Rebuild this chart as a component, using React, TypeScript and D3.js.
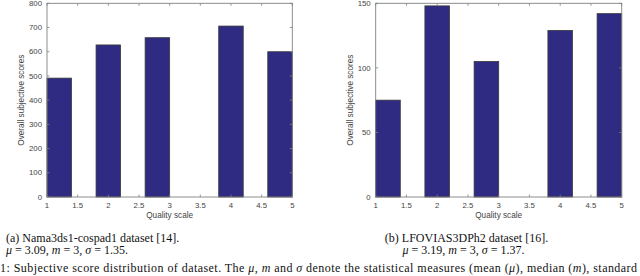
import React from "react";
import * as d3 from "d3";

// histogram bins (quality scale) and counts
const binCenters = [1.2, 2.0, 2.8, 4.0, 4.8];
const binWidth = 0.4;
const namaScores = [491, 628, 658, 706, 600];
const lfoviasScores = [75, 148, 105, 129, 142];
const xTicks = [1, 1.5, 2, 2.5, 3, 3.5, 4, 4.5, 5];
const namaYTicks = [0, 100, 200, 300, 400, 500, 600, 700, 800];
const lfoviasYTicks = [0, 50, 100, 150];

const W = 640;
const H = 276;
const sans = '"Liberation Sans", Arial, sans-serif';
const serif = '"Liberation Serif", "Times New Roman", serif';

const drawPanel = (svg: any, left: number, right: number, values: number[], yTicks: number[]) => {
  const top = 3.3;
  const bottom = 197;
  const x = d3.scaleLinear().domain([1, 5]).range([left, right]);
  const y = d3.scaleLinear().domain([0, yTicks[yTicks.length - 1]]).range([bottom, top]);
  const g = svg.append("g");

  // bars
  g.selectAll("rect.bar")
    .data(values)
    .enter()
    .append("rect")
    .attr("class", "bar")
    .attr("x", (d: number, i: number) => x(binCenters[i] - binWidth / 2))
    .attr("width", (d: number, i: number) => x(binCenters[i] + binWidth / 2) - x(binCenters[i] - binWidth / 2))
    .attr("y", (d: number) => y(d))
    .attr("height", (d: number) => y(0) - y(d))
    .attr("fill", "#2f2b82")
    .attr("stroke", "#3a3a3a")
    .attr("stroke-width", 0.8);

  // box
  g.append("rect")
    .attr("x", left)
    .attr("y", top)
    .attr("width", right - left)
    .attr("height", bottom - top)
    .attr("fill", "none")
    .attr("stroke", "#808080")
    .attr("stroke-width", 0.9);

  const tk = 2.5;
  xTicks.forEach((t) => {
    g.append("line").attr("x1", x(t)).attr("x2", x(t)).attr("y1", bottom).attr("y2", bottom - tk).attr("stroke", "#808080").attr("stroke-width", 0.8);
    g.append("line").attr("x1", x(t)).attr("x2", x(t)).attr("y1", top).attr("y2", top + tk).attr("stroke", "#808080").attr("stroke-width", 0.8);
    g.append("text")
      .attr("x", x(t))
      .attr("y", bottom + 11)
      .attr("text-anchor", "middle")
      .attr("font-family", sans)
      .attr("font-size", "7.8px")
      .attr("fill", "#444")
      .text(String(t));
  });
  yTicks.forEach((t) => {
    g.append("line").attr("x1", left).attr("x2", left + tk).attr("y1", y(t)).attr("y2", y(t)).attr("stroke", "#808080").attr("stroke-width", 0.8);
    g.append("line").attr("x1", right).attr("x2", right - tk).attr("y1", y(t)).attr("y2", y(t)).attr("stroke", "#808080").attr("stroke-width", 0.8);
    g.append("text")
      .attr("x", left - 5)
      .attr("y", y(t) + 2.7)
      .attr("text-anchor", "end")
      .attr("font-family", sans)
      .attr("font-size", "7.8px")
      .attr("fill", "#444")
      .text(String(t));
  });

  g.append("text")
    .attr("x", (left + right) / 2)
    .attr("y", bottom + 21)
    .attr("text-anchor", "middle")
    .attr("font-family", sans)
    .attr("font-size", "8.2px")
    .attr("fill", "#444")
    .text("Quality scale");

  g.append("text")
    .attr("transform", `translate(${left - 23},${(top + bottom) / 2}) rotate(-90)`)
    .attr("text-anchor", "middle")
    .attr("font-family", sans)
    .attr("font-size", "8.2px")
    .attr("fill", "#444")
    .text("Overall subjective scores");
};

const statLine = (svg: any, xPos: number, yPos: number, anchor: string, mu: string, m: string, s: string) => {
  const t = svg.append("text")
    .attr("x", xPos)
    .attr("y", yPos)
    .attr("text-anchor", anchor)
    .attr("font-family", serif)
    .attr("font-size", "12px")
    .attr("fill", "#111");
  t.append("tspan").attr("font-style", "italic").text("μ");
  t.append("tspan").text(` = ${mu}, `);
  t.append("tspan").attr("font-style", "italic").text("m");
  t.append("tspan").text(` = ${m}, `);
  t.append("tspan").attr("font-style", "italic").text("σ");
  t.append("tspan").text(` = ${s}.`);
};

const App = () => {
  const ref = React.useRef<SVGSVGElement>(null);
  React.useEffect(() => {
    const svg = d3.select(ref.current);
    svg.selectAll("*").remove();

    drawPanel(svg, 47, 292.3, namaScores, namaYTicks);
    drawPanel(svg, 375.7, 621.7, lfoviasScores, lfoviasYTicks);

    // captions
    svg.append("text")
      .attr("x", 6)
      .attr("y", 241.5)
      .attr("font-family", serif)
      .attr("font-size", "12px")
      .attr("fill", "#111")
      .text("(a) Nama3ds1-cospad1 dataset [14].");
    statLine(svg, 6, 254, "start", "3.09", "3", "1.35");

    svg.append("text")
      .attr("x", 466.5)
      .attr("y", 241.5)
      .attr("text-anchor", "middle")
      .attr("font-family", serif)
      .attr("font-size", "12px")
      .attr("fill", "#111")
      .text("(b) LFOVIAS3DPh2 dataset [16].");
    statLine(svg, 463.5, 254, "middle", "3.19", "3", "1.37");

    const fig = svg.append("text")
      .attr("x", 0)
      .attr("y", 272)
      .attr("font-family", serif)
      .attr("font-size", "12px")
      .attr("fill", "#111")
      .attr("textLength", 637)
      .attr("lengthAdjust", "spacing");
    fig.append("tspan").text("1: Subjective score distribution of dataset. The ");
    fig.append("tspan").attr("font-style", "italic").text("μ");
    fig.append("tspan").text(", ");
    fig.append("tspan").attr("font-style", "italic").text("m");
    fig.append("tspan").text(" and ");
    fig.append("tspan").attr("font-style", "italic").text("σ");
    fig.append("tspan").text(" denote the statistical measures (mean (");
    fig.append("tspan").attr("font-style", "italic").text("μ");
    fig.append("tspan").text("), median (");
    fig.append("tspan").attr("font-style", "italic").text("m");
    fig.append("tspan").text("), standard");
  }, []);

  return (
    <svg
      ref={ref}
      width={W}
      height={H}
      style={{ position: "absolute", left: 0, top: 0, background: "#fff" }}
    />
  );
};

export default App;
